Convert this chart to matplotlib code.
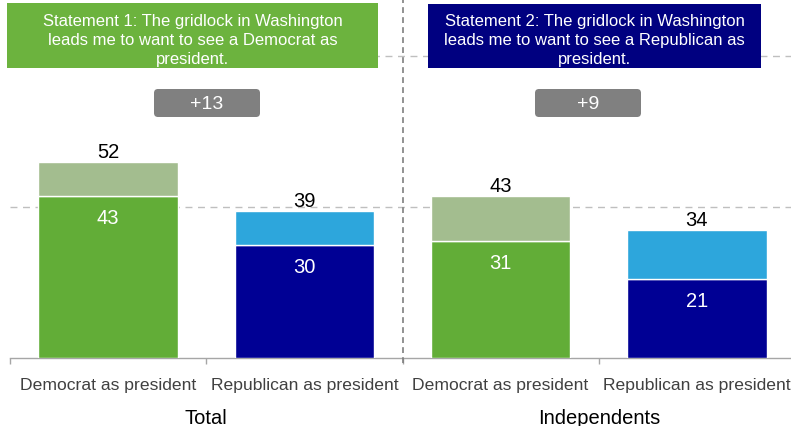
import numpy as np
import matplotlib
matplotlib.use("Agg")
import matplotlib.pyplot as plt
from matplotlib.patches import Rectangle, FancyBboxPatch

plt.rcParams['font.family'] = ['Liberation Sans', 'DejaVu Sans']

# ---------------- data ----------------
categories = ["Democrat as president", "Republican as president",
              "Democrat as president", "Republican as president"]
groups = ["Total", "Independents"]
base_vals = [43, 30, 31, 21]          # lower (darker) segment
total_vals = [52, 39, 43, 34]         # label above bar
gap_labels = ["+13", "+9"]
statements = [
    "Statement 1: The gridlock in Washington\nleads me to want to see a Democrat as\npresident.",
    "Statement 2: The gridlock in Washington\nleads me to want to see a Republican as\npresident.",
]

# ---------------- colours ----------------
base_colors = ["#62AD37", "#000094", "#62AD37", "#000094"]
top_colors = ["#A3BD8F", "#2DA6DC", "#A3BD8F", "#2DA6DC"]
box_colors = ["#6CB33E", "#000080"]

W, H = 791, 427
fig = plt.figure(figsize=(W / 100, H / 100), dpi=100)

# main axes: baseline at y=359px, from x=10px to x=795px
ax = fig.add_axes([10 / W, (H - 359) / H, 785 / W, 359 / H])
ax.set_xlim(-0.5, 3.5)
ax.set_ylim(0, 95.2)

x = np.arange(len(categories))
top_vals = [t - b for t, b in zip(total_vals, base_vals)]

ax.bar(x, base_vals, width=0.71, color=base_colors, edgecolor='white',
       linewidth=1, zorder=3)
ax.bar(x, top_vals, bottom=base_vals, width=0.71, color=top_colors,
       edgecolor='white', linewidth=1, zorder=3)

# gridlines
for gy in [40, 80]:
    ax.axhline(gy, color='#BFBFBF', lw=1, dashes=(5, 4), zorder=1)

# value labels
for xi, b, t in zip(x, base_vals, total_vals):
    ax.annotate(str(t), (xi, t), xytext=(0, 3.6), textcoords='offset points',
                ha='center', va='baseline', fontsize=14.5, color='black', zorder=5)
    ax.annotate(str(b), (xi, b), xytext=(0, -19.5), textcoords='offset points',
                ha='center', va='baseline', fontsize=14.5, color='white', zorder=5)

# axis styling
for s in ['top', 'right', 'left']:
    ax.spines[s].set_visible(False)
ax.spines['bottom'].set_color('#A6A6A6')
ax.spines['bottom'].set_linewidth(1)
ax.set_yticks([])
ax.set_xticks(np.arange(-0.5, 4.0, 1.0))
ax.set_xticklabels([])
ax.tick_params(axis='x', which='major', length=4.5, color='#A6A6A6', width=1)
ax.set_xticks(x, minor=True)
ax.set_xticklabels(categories, minor=True, fontsize=12.6, color='#404040')
ax.tick_params(axis='x', which='minor', length=0, pad=13.5)

# divider between groups
ax.plot([1.5, 1.5], [-0.014, 1.0], transform=ax.get_xaxis_transform(),
        color='#7F7F7F', lw=1.2, dashes=(3.5, 2.5), clip_on=False, zorder=4)

# group labels
for gi, g in enumerate(groups):
    ax.text(0.5 + 2 * gi, -0.181, g, transform=ax.get_xaxis_transform(),
            ha='center', va='baseline', fontsize=14.5, color='black')

# overlay for statement and gap boxes (pixel coordinates)
ov = fig.add_axes([0, 0, 1, 1], zorder=10)
ov.set_xlim(0, W)
ov.set_ylim(H, 0)
ov.axis('off')
ov.patch.set_alpha(0)

box_specs = [(7, 4, 371, 65), (428, 5, 333, 64)]
for (bx, by, bw, bh), col, txt in zip(box_specs, box_colors, statements):
    ov.add_patch(Rectangle((bx, by), bw, bh, facecolor=col, edgecolor='none'))
    ov.text(bx + bw / 2, 40.5, txt, ha='center', va='center', color='white',
            fontsize=12, linespacing=1.35)

for cx, lab in zip([207, 588], gap_labels):
    ov.add_patch(FancyBboxPatch((cx - 50, 93), 100, 22,
                                boxstyle='round,pad=3,rounding_size=4',
                                facecolor='#808080', edgecolor='none'))
    ov.text(cx, 104.5, lab, ha='center', va='center', color='white', fontsize=14)

fig.savefig('out.png', dpi=100)
